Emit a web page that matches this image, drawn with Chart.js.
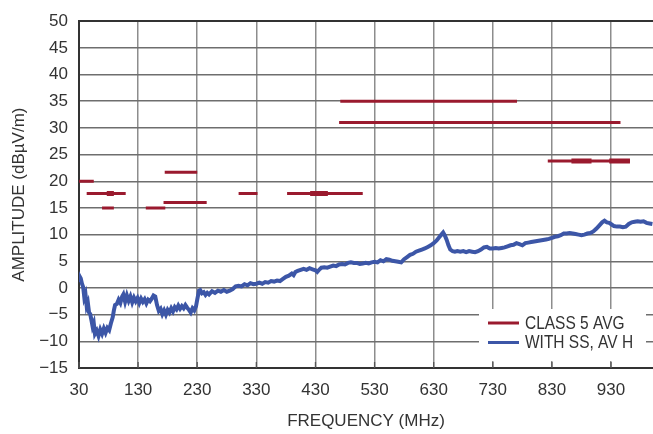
<!DOCTYPE html>
<html><head><meta charset="utf-8">
<script src="https://cdn.jsdelivr.net/npm/chart.js@4.4.1/dist/chart.umd.min.js"></script>
<style>html,body{margin:0;padding:0;background:#fff;overflow:hidden}#wrap{width:653px;height:434px;position:relative}</style>
</head><body><div id="wrap"><canvas id="c" width="653" height="434"></canvas></div>
<script>
// ---- data ----
const xTickValues = [30,130,230,330,430,530,630,730,830,930];
const yTickValues = [-15,-10,-5,0,5,10,15,20,25,30,35,40,45,50];

// CLASS 5 AVG limit segments (MHz start, MHz end, dBuV/m)
const limitStart = [30, 43, 69, 143, 175, 173, 300, 382, 472, 470, 823];
const limitEnd   = [55, 109, 89, 176, 230, 246, 332, 510, 771, 946, 962];
const limitLevel = [20, 17.7, 15, 15, 21.7, 16, 17.7, 17.7, 35, 31, 23.8];
// overlapping (doubled) parts of limit segments
const overlapStart = [77, 421, 863, 927];
const overlapEnd   = [89, 451, 897, 962];
const overlapLevel = [17.7, 17.7, 23.8, 23.8];

// WITH SS, AV H trace
const ssFreq = [30,31,33,35,37,39,41,43,45,47,49,51,53,55,57,60,63,66,69,72,75,78,81,84,87,89,91,94,97,100,103,105,108,111,114,117,120,123,126,129,132,135,138,141,144,147,150,153,156,159,162,165,168,171,174,177,180,183,186,189,192,195,198,201,204,207,210,213,216,219,222,225,228,230,233,235,238,241,244,247,250,255,260,265,270,275,280,285,290,295,300,305,310,315,320,325,330,335,340,345,350,355,360,365,370,375,380,385,390,393,396,400,405,410,415,420,425,430,433,437,440,445,450,455,460,465,470,475,480,485,490,495,500,505,510,515,520,525,530,535,540,545,550,555,560,565,570,575,580,585,590,595,600,605,610,615,620,625,630,635,640,643,646,649,652,655,658,662,666,670,675,680,685,690,695,700,705,710,715,720,725,730,735,740,745,750,755,760,765,770,775,780,785,790,795,800,805,810,815,820,825,830,835,840,845,850,855,860,865,870,875,880,885,890,895,900,905,910,915,919,923,927,931,935,940,945,950,955,960,965,970,975,980,985,990,995,1000];
const ssAmp = [1.5,2.2,1.8,0.8,0.2,-1.8,-1.2,-3.4,-2.8,-4.6,-4.9,-6.0,-7.2,-6.6,-8.6,-8.0,-9.0,-7.8,-8.6,-7.6,-8.4,-7.5,-7.9,-6.6,-5.5,-4.2,-3.2,-3.0,-2.2,-2.8,-1.6,-1.2,-2.6,-1.4,-2.4,-1.6,-2.7,-1.8,-2.5,-1.9,-2.8,-2.0,-2.6,-2.1,-2.9,-2.2,-2.5,-2.0,-1.4,-1.6,-3.2,-4.3,-3.9,-4.9,-4.2,-5.0,-4.1,-4.6,-3.8,-4.4,-3.6,-4.0,-3.3,-3.9,-3.4,-3.8,-3.2,-3.7,-4.1,-4.6,-3.8,-4.2,-3.4,-2.2,-0.5,-0.4,-1.0,-0.8,-1.3,-0.9,-1.2,-0.6,-0.9,-0.5,-0.7,-0.4,-0.7,-0.5,-0.2,0.3,0.4,0.3,0.7,0.5,0.9,0.7,0.8,1.0,0.8,1.1,1.0,1.3,1.2,1.4,1.3,1.7,2.1,2.3,2.7,2.4,3.0,3.2,3.4,3.6,3.4,3.7,3.5,3.3,3.0,3.5,3.8,3.9,3.8,4.0,4.2,4.1,4.4,4.5,4.4,4.7,4.8,4.7,4.7,4.5,4.6,4.7,4.6,4.8,4.9,4.8,5.2,5.0,5.4,5.3,5.1,5.0,4.9,4.8,5.4,5.8,6.2,6.4,6.8,7.0,7.2,7.4,7.7,8.0,8.4,8.9,9.6,10.0,10.4,9.8,9.0,8.0,7.2,6.9,6.8,6.9,6.8,6.9,6.7,6.9,6.8,6.7,6.9,7.2,7.6,7.7,7.4,7.4,7.5,7.4,7.5,7.6,7.8,8.0,8.1,8.4,8.2,8.0,8.4,8.5,8.6,8.7,8.8,8.9,9.0,9.1,9.2,9.4,9.6,9.7,9.9,10.2,10.2,10.3,10.2,10.1,10.0,9.9,10.0,10.2,10.3,10.6,11.1,11.7,12.3,12.6,12.3,12.2,11.9,11.6,11.5,11.5,11.4,11.5,12.0,12.3,12.4,12.5,12.4,12.5,12.2,12.1,12.0];

const seriesNames = ['CLASS 5 AVG', 'WITH SS, AV H'];
const RED = '#9a1a2e', BLUE = '#3c56a7', TEXT = '#333333';

// ---- build datasets ----
const datasets = [];
limitStart.forEach((s, i) => datasets.push({
  data: [{x: s, y: limitLevel[i]}, {x: limitEnd[i], y: limitLevel[i]}],
  borderColor: RED, borderWidth: 3, pointRadius: 0, borderCapStyle: 'butt'
}));
overlapStart.forEach((s, i) => datasets.push({
  data: [{x: s, y: overlapLevel[i]}, {x: overlapEnd[i], y: overlapLevel[i]}],
  borderColor: RED, borderWidth: 5, pointRadius: 0, borderCapStyle: 'butt'
}));
datasets.push({
  data: ssFreq.map((f, i) => ({x: f, y: ssAmp[i]})),
  borderColor: BLUE, borderWidth: 4, pointRadius: 0, tension: 0
});

const FONT = '"Liberation Sans", Arial, sans-serif';
Chart.defaults.font.family = FONT;
Chart.defaults.color = TEXT;

const boxLegend = {
  id: 'boxLegend',
  afterDatasetsDraw(chart) {
    const ctx = chart.ctx, a = chart.chartArea;
    ctx.save();
    const bx = a.right - 174, by = a.bottom - 59;
    ctx.fillStyle = '#ffffff';
    ctx.fillRect(bx, by, 167, 52);
    const colors = [RED, BLUE];
    ctx.font = '18px ' + FONT;
    ctx.textBaseline = 'middle';
    ctx.textAlign = 'left';
    seriesNames.forEach((n, i) => {
      const yy = by + 14 + i * 19.5;
      ctx.strokeStyle = colors[i];
      ctx.lineWidth = 3;
      ctx.beginPath(); ctx.moveTo(bx + 9, yy); ctx.lineTo(bx + 40, yy); ctx.stroke();
      ctx.fillStyle = TEXT;
      ctx.save();
      ctx.translate(bx + 46, yy + 1);
      ctx.scale(0.86, 1);
      ctx.fillText(n, 0, 0);
      ctx.restore();
    });
    // inner tick marks on bottom axis
    ctx.strokeStyle = '#555';
    ctx.lineWidth = 1.3;
    xTickValues.forEach(v => {
      const px = chart.scales.x.getPixelForValue(v);
      ctx.beginPath(); ctx.moveTo(px, a.bottom - 6); ctx.lineTo(px, a.bottom); ctx.stroke();
    });
    ctx.restore();
  }
};

new Chart(document.getElementById('c'), {
  type: 'line',
  data: { datasets },
  options: {
    responsive: false,
    animation: false,
    devicePixelRatio: 1,
    layout: { padding: { top: 10, right: 0, left: 0, bottom: 0 } },
    plugins: { legend: { display: false }, tooltip: { enabled: false } },
    scales: {
      x: {
        type: 'linear', min: 30, max: 1001,
        afterBuildTicks: s => { s.ticks = xTickValues.map(v => ({value: v})); },
        afterFit: s => { s.height = 66; },
        ticks: { font: { size: 17 }, color: TEXT, padding: 12, maxRotation: 0, autoSkip: false },
        grid: { color: '#8d8d8d', lineWidth: 1.5, drawTicks: false },
        border: { color: '#333', width: 2 },
        title: { display: true, text: 'FREQUENCY (MHz)', font: { size: 17 }, color: TEXT, padding: { top: 0, bottom: 2 } }
      },
      y: {
        type: 'linear', min: -15, max: 50,
        afterBuildTicks: s => { s.ticks = yTickValues.map(v => ({value: v})); },
        afterFit: s => { s.width = 79; },
        ticks: { font: { size: 17 }, color: TEXT, padding: 11, autoSkip: false,
                 callback: v => (v < 0 ? '\u2212' + Math.abs(v) : String(v)) },
        grid: { color: c => (c.tick && c.tick.value === 50 ? '#333' : '#6e6e6e'),
                lineWidth: c => (c.tick && c.tick.value === 50 ? 2 : 1.5), drawTicks: false },
        border: { color: '#333', width: 2 },
        title: { display: true, text: 'AMPLITUDE (dB\u00B5V/m)', font: { size: 17 }, color: TEXT, padding: { top: 9, bottom: 0 } }
      }
    }
  },
  plugins: [boxLegend]
});
</script>
</body></html>
